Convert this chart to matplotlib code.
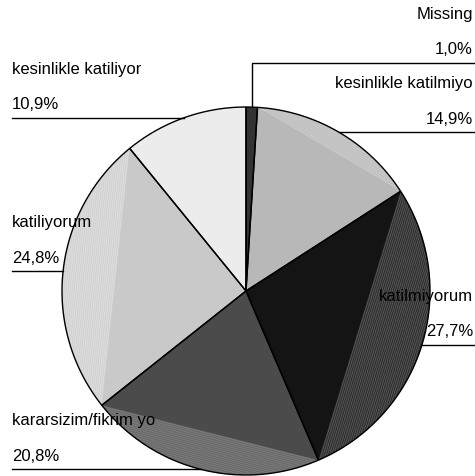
import numpy as np
import matplotlib.pyplot as plt
from matplotlib.patches import Polygon

plt.rcParams['font.family'] = ['Liberation Sans', 'DejaVu Sans']

etiketler = ["Missing", "kesinlikle katilmiyo", "katilmiyorum",
             "kararsizim/fikrim yo", "katiliyorum", "kesinlikle katiliyor"]
yuzdeler = [1.0, 14.9, 27.7, 20.8, 24.8, 10.9]
renkler = ["#333333", "#b8b8b8", "#141414", "#4b4b4b", "#c9c9c9", "#ececec"]
# renk of the striped outer part (segment between chord and arc)
serit_zemin = [None, "#bdbdbd", "#2e2e2e", "#6a6a6a", "#d2d2d2", None]
serit_renk = [None, "#cfcfcf", "#5a5a5a", "#7c7c7c", "#dedede", None]

W, H = 475, 477
merkez = (246, H - 292)
yaricap = 184

fig = plt.figure(figsize=(W / 100, H / 100), dpi=100)
ax = fig.add_axes([0, 0, 1, 1])

dilimler, _ = ax.pie(yuzdeler, colors=renkler, startangle=90, counterclock=False,
                     center=merkez, radius=yaricap,
                     wedgeprops=dict(edgecolor="none", linewidth=0))

# striped segments
for i, w in enumerate(dilimler):
    if serit_zemin[i] is None:
        continue
    t1, t2 = np.radians(w.theta1), np.radians(w.theta2)
    tt = np.linspace(t1, t2, 100)
    px = merkez[0] + yaricap * np.cos(tt)
    py = merkez[1] + yaricap * np.sin(tt)
    ax.add_patch(Polygon(np.column_stack([px, py]), closed=True,
                         facecolor=serit_zemin[i], edgecolor="none"))
    m = (t1 + t2) / 2
    yarim = (t2 - t1) / 2
    d = yaricap * np.cos(yarim)
    u = np.array([np.cos(m), np.sin(m)])
    p = np.array([-np.sin(m), np.cos(m)])
    for s in np.arange(d + 1.0, yaricap, 2.0):
        L = np.sqrt(yaricap ** 2 - s ** 2)
        c = np.array(merkez) + s * u
        a, b = c - L * p, c + L * p
        ax.plot([a[0], b[0]], [a[1], b[1]], color=serit_renk[i], lw=0.6,
                solid_capstyle="butt")

# outlines
for w in dilimler:
    t1, t2 = np.radians(w.theta1), np.radians(w.theta2)
    tt = np.linspace(t1, t2, 200)
    xs = np.concatenate([[merkez[0]], merkez[0] + yaricap * np.cos(tt), [merkez[0]]])
    ys = np.concatenate([[merkez[1]], merkez[1] + yaricap * np.sin(tt), [merkez[1]]])
    ax.plot(xs, ys, color="black", lw=1.0, solid_joinstyle="miter")

# labels with leader lines
fs = 12
for i, w in enumerate(dilimler):
    m = np.radians((w.theta1 + w.theta2) / 2)
    ex = merkez[0] + yaricap * np.cos(m)
    ey = merkez[1] + yaricap * np.sin(m)
    yuzde = f"{yuzdeler[i]:.1f}%".replace(".", ",")
    if i == 0:
        ly = H - 64
        ax.plot([ex, ex, W], [ey, ly, ly], color="black", lw=1)
        tx, ha = W - 2, "right"
    elif ex > merkez[0]:
        ly = ey
        ax.plot([ex, W], [ly, ly], color="black", lw=1)
        tx, ha = W - 2, "right"
    else:
        ly = ey
        ax.plot([12, ex], [ly, ly], color="black", lw=1)
        tx, ha = 12, "left"
    ax.text(tx, ly + 45, etiketler[i], fontsize=fs, ha=ha, va="baseline", color="black")
    ax.text(tx, ly + 9.5, yuzde, fontsize=fs, ha=ha, va="baseline", color="black")

ax.set_xlim(0, W)
ax.set_ylim(0, H)
ax.set_aspect("auto")
ax.axis("off")

fig.savefig("out.png", dpi=100, facecolor="white")
